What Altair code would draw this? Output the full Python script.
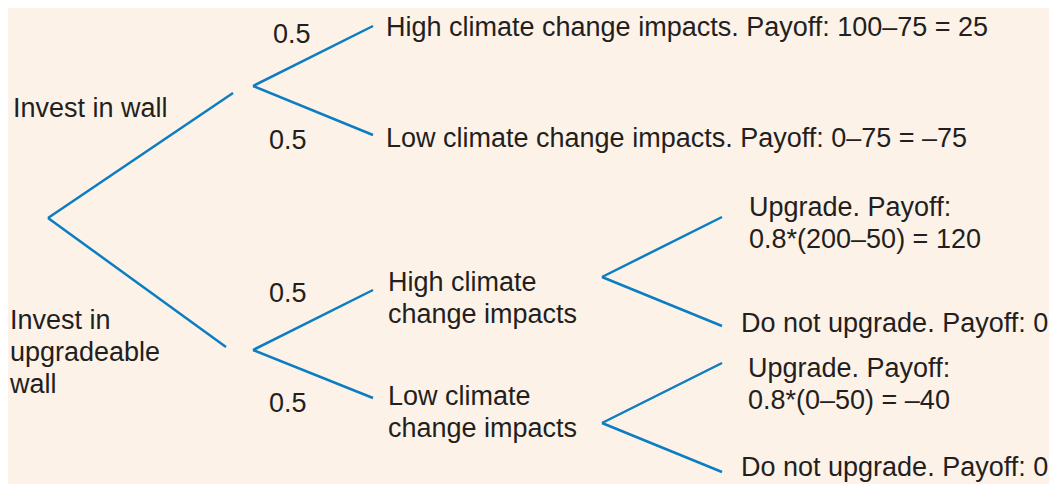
import altair as alt
import pandas as pd

# ---- tree structure (decision tree) ----
# nodes: id, column x, row y (layout of the diagram in picture pixels)
node_id = ["root", "A_in", "A", "B_in", "B", "Ahi", "Alo", "Bhi", "Blo", "C", "D",
           "Chi", "Clo", "Dhi", "Dlo"]
node_x = [48, 233, 253, 226, 253, 373, 373, 373, 373, 602, 602, 722, 722, 722, 722]
node_y = [218, 93, 86, 347, 350, 26, 135, 290, 398, 277, 423, 217, 326, 363, 472]

edge_from = ["root", "root", "A", "A", "B", "B", "C", "C", "D", "D"]
edge_to = ["A_in", "B_in", "Ahi", "Alo", "Bhi", "Blo", "Chi", "Clo", "Dhi", "Dlo"]

# ---- labels ----
label_text = [
    "0.5", "0.5", "Invest in wall",
    "High climate change impacts. Payoff: 100\u201375 = 25",
    "Low climate change impacts. Payoff: 0\u201375 = \u201375",
    "Invest in\nupgradeable\nwall",
    "0.5", "0.5",
    "High climate\nchange impacts",
    "Low climate\nchange impacts",
    "Upgrade. Payoff:\n0.8*(200\u201350) = 120",
    "Do not upgrade. Payoff: 0",
    "Upgrade. Payoff:\n0.8*(0\u201350) = \u201340",
    "Do not upgrade. Payoff: 0",
]
label_x = [273, 269, 13, 386, 386, 10, 269, 269, 388, 388, 749, 741, 748, 741]
label_y = [43, 149, 117, 36, 147, 329, 302, 412, 291, 405, 216, 332, 377, 476]

pos = {n: (x, y) for n, x, y in zip(node_id, node_x, node_y)}
edges = pd.DataFrame({
    "x": [pos[a][0] for a in edge_from],
    "y": [pos[a][1] for a in edge_from],
    "x2": [pos[b][0] for b in edge_to],
    "y2": [pos[b][1] for b in edge_to],
})
labels = pd.DataFrame({"text": label_text, "x": label_x, "y": label_y})

W, H = 1041, 476
xs = alt.Scale(domain=[8, 8 + W], nice=False, zero=False)
ys = alt.Scale(domain=[8, 8 + H], nice=False, zero=False, reverse=True)

lines = alt.Chart(edges).mark_rule(color="#0b7dc3", strokeWidth=2.5).encode(
    x=alt.X("x:Q", scale=xs, axis=None),
    y=alt.Y("y:Q", scale=ys, axis=None),
    x2="x2:Q",
    y2="y2:Q",
)

texts = alt.Chart(labels).mark_text(
    align="left", baseline="alphabetic", font="Liberation Sans",
    fontSize=27, lineHeight=32, lineBreak="\n", color="#231f20",
).encode(
    x=alt.X("x:Q", scale=xs, axis=None),
    y=alt.Y("y:Q", scale=ys, axis=None),
    text="text:N",
)

chart = alt.layer(lines, texts).properties(
    width=W, height=H, background="#fdf2e8", padding=0,
    autosize=alt.AutoSizeParams(type="none"),
).configure_view(stroke=None)

chart.save("out.html", embed_options={"renderer": "svg", "actions": False})
